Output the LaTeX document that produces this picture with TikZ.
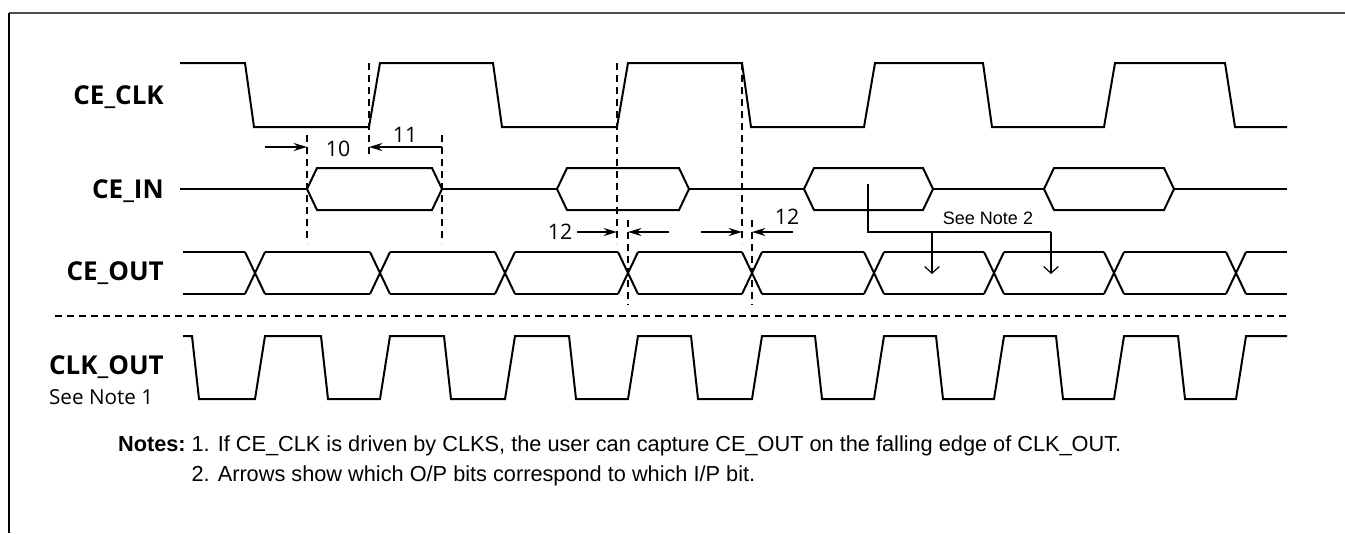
\documentclass[tikz,border=0pt]{standalone}
\usepackage{fontspec}
\setmainfont{Liberation Sans}
\newfontfamily\sigfont{Open Sans}
\usetikzlibrary{positioning}
\usetikzlibrary{arrows.meta}
\tikzset{
  wave/.style={line width=1.5pt},
  guide/.style={line width=1.3pt, dash pattern=on 5.5pt off 3.5pt},
  dimarrow/.style={line width=1.2pt, -{Stealth[length=10pt,width=6pt]}},
  maparrow/.style={line width=0.9pt, -{Straight Barb[length=5pt,width=11pt]}},
  sigl/.style={font=\sigfont\bfseries\fontsize{19.5}{22}\selectfont, anchor=east, inner sep=0pt},
  dimlabel/.style={font=\sigfont\fontsize{16}{18}\selectfont, inner sep=0pt},
  notetext/.style={font=\fontsize{16.3}{21}\selectfont, inner sep=0pt},
}

\begin{document}
\begin{tikzpicture}[x=0.75pt,y=-0.75pt]
            \useasboundingbox (0,0) rectangle (1345,533);
            \draw[line width=1.2pt, black!70] (9,13) -- (1345,13);
            \draw[line width=1.2pt] (9,13) -- (9,533);

            \node (ceclk)  [sigl] at (164,97)  {CE\_CLK};
            \node (cein)   [sigl] at (164,191) {CE\_IN};
            \node (ceout)  [sigl] at (164,273) {CE\_OUT};
            \node (clkout) [sigl] at (164,367) {CLK\_OUT};
            \node (seenote1) [below right=8pt and 0pt of clkout.south west, inner sep=0pt,
                font=\sigfont\fontsize{15.5}{17}\selectfont] {See Note 1};

            \draw[wave] (180,63) \foreach \f/\r in {245/369, 493/617, 742/864, 983/1104} {
                -- (\f,63) -- ({\f+9},127) -- (\r,127) -- ({\r+11},63) }
                -- (1225,63) -- (1235,127) -- (1287,127);

            \foreach \a/\b in {180/307, 442/557, 689/804, 933/1044, 1174/1287}
                \draw[wave] (\a,189) -- (\b,189);
            \foreach \a/\b in {307/442, 557/689, 804/933, 1044/1174}
                \draw[wave] (\a,189) -- ({\a+10},168) -- ({\b-10},168) -- (\b,189)
                    -- ({\b-10},210) -- ({\a+10},210) -- cycle;

            \foreach \c in {255, 380, 505, 628, 752, 874, 994, 1114, 1236}
                \draw[wave] ({\c-10},252) -- ({\c+10},294) ({\c-10},294) -- ({\c+10},252);
            \foreach \a/\b in {173/255, 255/380, 380/505, 505/628, 628/752, 752/874, 874/994, 994/1114, 1114/1236, 1236/1297}
                \draw[wave] ({\a+10},252) -- ({\b-10},252) ({\a+10},294) -- ({\b-10},294);

            \draw[guide] (55,316) -- (1287,316);

            \draw[wave] (183,336) \foreach \f/\r in {192/255, 321/380, 444/505, 569/628, 691/752, 815/874, 936/994, 1056/1114, 1178/1236} {
                -- (\f,336) -- ({\f+7},399) -- (\r,399) -- ({\r+10},336) }
                -- (1287,336);

            \foreach \x/\ya/\yb in {307/135/243, 369/63/157, 442/135/243, 617/63/243, 628/220/305, 742/63/243, 752/220/305}
                \draw[guide] (\x,\ya) -- (\x,\yb);

            \coordinate (setup) at (307,147);
            \coordinate (holdA) at (369,147);
            \coordinate (holdB) at (442,147);
            \node (t10) [dimlabel] at (338,149) {10};
            \node (t11) [dimlabel] at (405,135) {11};
            \draw[dimarrow] (265,147) -- (setup);
            \draw[dimarrow, {Stealth[length=10pt,width=6pt]}-] (holdA) -- (holdB);

            \coordinate (dlyA) at (617,232);
            \coordinate (dlyB) at (628,232);
            \coordinate (dlyC) at (742,232);
            \coordinate (dlyD) at (752,232);
            \node (t12a) [dimlabel] at (560,232) {12};
            \node (t12b) [dimlabel] at (787,217) {12};
            \draw[dimarrow] (577,232) -- (dlyA);
            \draw[dimarrow] (669,232) -- (dlyB);
            \draw[dimarrow] (701,232) -- (dlyC);
            \draw[dimarrow] (793,232) -- (dlyD);

            \coordinate (inbit) at (868,184);
            \coordinate (split) at (868,232);
            \coordinate (outbitA) at (932,274);
            \coordinate (outbitB) at (1051,274);
            \node (seenote2) [font=\fontsize{13.5}{15}\selectfont, inner sep=0pt] at (988,218) {See Note 2};
            \draw[line width=0.9pt] (inbit) -- (split) -- (1051,232);
            \draw[maparrow] (932,232) -- (outbitA);
            \draw[maparrow] (1051,232) -- (outbitB);

            \node (notes) [notetext, anchor=base east] at (186,451) {\textbf{Notes:}};
            \node (note1) [notetext, right=4pt of notes.base east, anchor=base west]
                {1. If CE\_CLK is driven by CLKS, the user can capture CE\_OUT on the falling edge of CLK\_OUT.};
            \node (note2) [notetext, below=7pt of note1.south west, anchor=north west]
                {2. Arrows show which O/P bits correspond to which I/P bit.};
\end{tikzpicture}
\end{document}
